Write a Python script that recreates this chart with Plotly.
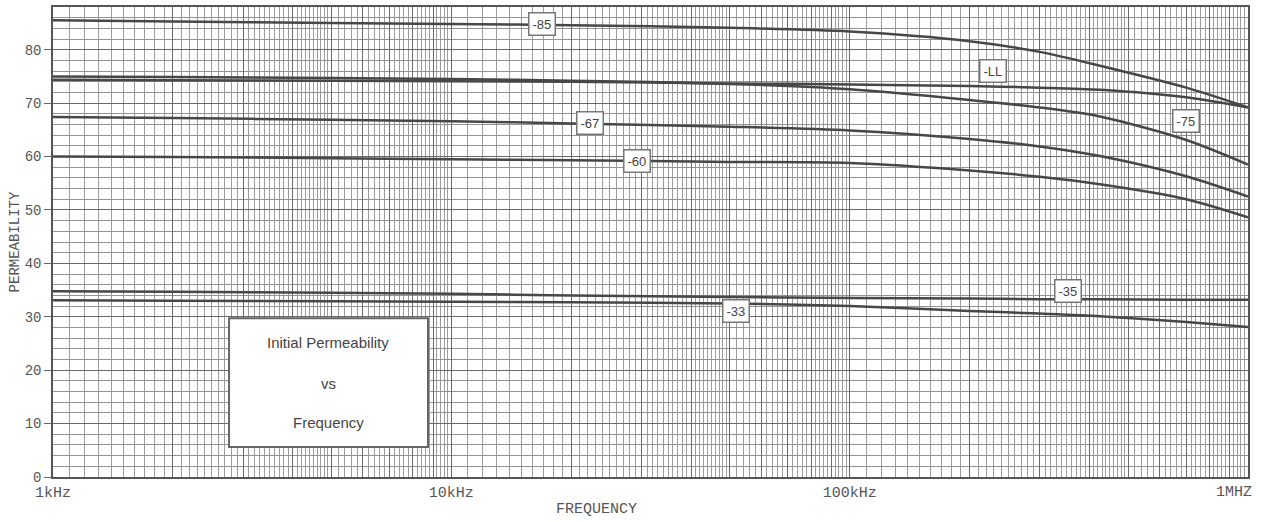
import numpy as np
import plotly.graph_objects as go

# ---------------- data ----------------
freq_khz = [1, 2, 5, 10, 20, 50, 100, 200, 300, 425, 700, 1000]

perm_85 = [85.5, 85.3, 85.0, 84.8, 84.6, 84.1, 83.4, 81.6, 79.6, 77.0, 72.9, 69.2]
perm_LL = [74.4, 74.3, 74.2, 74.1, 74.0, 73.7, 73.5, 73.2, 72.9, 72.5, 71.1, 69.2]
perm_75 = [75.0, 74.9, 74.7, 74.5, 74.2, 73.6, 72.6, 70.6, 69.2, 67.5, 63.1, 58.5]
perm_67 = [67.4, 67.2, 66.9, 66.6, 66.2, 65.6, 64.9, 63.3, 61.9, 60.1, 56.3, 52.5]
perm_60 = [60.0, 59.9, 59.7, 59.5, 59.3, 59.0, 58.8, 57.4, 56.2, 54.8, 52.0, 48.6]
perm_35 = [34.8, 34.7, 34.5, 34.3, 34.0, 33.7, 33.5, 33.4, 33.3, 33.3, 33.2, 33.2]
perm_33 = [33.1, 33.0, 32.9, 32.8, 32.7, 32.5, 32.0, 31.1, 30.6, 30.1, 29.0, 28.1]

series_names = ["-85", "-LL", "-75", "-67", "-60", "-35", "-33"]
series_values = [perm_85, perm_LL, perm_75, perm_67, perm_60, perm_35, perm_33]

# label anchor points (frequency kHz, permeability)
label_freq = [16.9, 229, 699, 22.3, 29.3, 353, 51.9]
label_perm = [84.8, 76.0, 66.6, 66.2, 59.1, 34.9, 31.0]

x_tick_vals = [1, 10, 100]
x_tick_text = ["1kHz", "10kHz", "100kHz"]
x_end_val = 1000
x_end_text = "1MHZ"
y_tick_vals = [0, 10, 20, 30, 40, 50, 60, 70, 80]

box_lines = ["Initial Permeability", "vs", "Frequency"]

# ---------------- grid values ----------------
major_x = []
minor_x = []
for d in [1, 10, 100]:
    for k in range(1, 10):
        major_x.append(k * d)
    for v in np.arange(1.1, 1.95, 0.1):
        minor_x.append(round(v, 2) * d)
    for v in np.arange(2.1, 4.95, 0.1):
        if abs(v - round(v)) > 0.01:
            minor_x.append(round(v, 2) * d)
    for v in np.arange(5.2, 9.85, 0.2):
        if abs(v - round(v)) > 0.01:
            minor_x.append(round(v, 2) * d)
major_x.append(x_end_val)
major_text = [x_tick_text[x_tick_vals.index(v)] if v in x_tick_vals else "" for v in major_x]

fig = go.Figure()

for name, vals in zip(series_names, series_values):
    fig.add_trace(go.Scatter(
        x=freq_khz, y=vals, mode="lines", name=name,
        line=dict(color="#474747", width=2.5, shape="spline", smoothing=0.8),
        showlegend=False, hoverinfo="skip"))

mono = "Courier New, Liberation Mono, monospace"

fig.update_layout(
    width=1263, height=522,
    margin=dict(l=53, r=15, t=7, b=45),
    paper_bgcolor="white", plot_bgcolor="white",
    xaxis=dict(
        type="log", range=[0, 3], automargin=False,
        tickmode="array", tickvals=major_x, ticktext=major_text,
        ticks="", showgrid=True, gridcolor="#6a6a6a", gridwidth=1,
        minor=dict(tickmode="array", tickvals=minor_x, showgrid=True,
                   gridcolor="#9c9c9c", gridwidth=1, ticks=""),
        showline=True, linecolor="#555", linewidth=1.5, mirror=True,
        tickfont=dict(family=mono, size=15, color="#555"),
        zeroline=False,
    ),
    yaxis=dict(
        range=[0, 88], automargin=False,
        tickmode="array", tickvals=y_tick_vals,
        ticks="outside", ticklen=7, tickcolor="#666", tickwidth=1.2,
        showgrid=True, gridcolor="#6a6a6a", gridwidth=1,
        minor=dict(dtick=2, showgrid=True, gridcolor="#939393", gridwidth=1),
        showline=True, linecolor="#555", linewidth=1.5, mirror=True,
        tickfont=dict(family=mono, size=14, color="#555"),
        title=dict(text="PERMEABILITY", font=dict(family=mono, size=14, color="#555"), standoff=2),
        zeroline=False,
    ),
)

# end-of-axis label (right aligned at the 1 MHz edge)
fig.add_annotation(x=np.log10(x_end_val), y=-0.032, xref="x", yref="paper",
                   text=x_end_text, showarrow=False, xanchor="right", yanchor="middle",
                   xshift=6, font=dict(family=mono, size=15, color="#555"))

# series labels
for name, lf, lp in zip(series_names, label_freq, label_perm):
    fig.add_annotation(
        x=np.log10(lf), y=lp, xref="x", yref="y", text=name, showarrow=False,
        font=dict(family="Arial, Liberation Sans, sans-serif", size=13, color="#444"),
        bgcolor="white", bordercolor="#777", borderwidth=1.5, borderpad=3,
    )

# info box
fig.add_shape(type="rect", xref="paper", yref="paper",
              x0=0.1473, x1=0.3138, y0=0.064, y1=0.338,
              fillcolor="white", line=dict(color="#666", width=2), layer="above")
for txt, yy in zip(box_lines, [0.286, 0.200, 0.115]):
    fig.add_annotation(x=0.2305, y=yy, xref="paper", yref="paper", text=txt,
                       showarrow=False, xanchor="center", yanchor="middle",
                       font=dict(family="Arial, Liberation Sans, sans-serif", size=15, color="#444"))

# x-axis title
fig.add_annotation(x=0.455, y=-0.070, xref="paper", yref="paper", text="FREQUENCY",
                   showarrow=False, yanchor="middle", xanchor="center",
                   font=dict(family=mono, size=15, color="#555"))

fig.write_html("out.html", config={"displayModeBar": False},
               post_script="document.body.style.margin='0';document.body.style.overflow='hidden';")
